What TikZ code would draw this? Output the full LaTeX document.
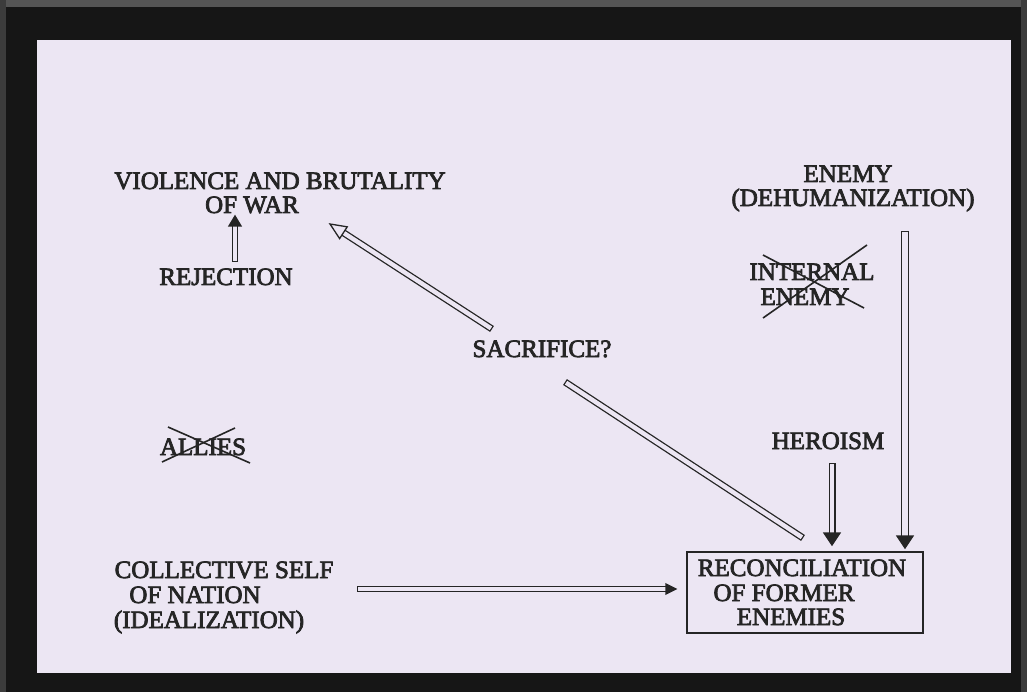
\documentclass[tikz,border=0pt]{standalone}
\usepackage{fontspec}
\setmainfont{Liberation Serif}[FakeBold=3]
\usetikzlibrary{calc}
\definecolor{ink}{HTML}{252525}
\definecolor{paper}{HTML}{ECE6F3}
\definecolor{frame}{HTML}{161616}
\definecolor{framegray}{HTML}{555555}
\newcommand\dblarrow[6]{%
  \coordinate (#2-hb) at ($(#2)!#4!(#1)$);
  \coordinate (#2-hl) at ($(#2-hb)!#5!90:(#2)$);
  \coordinate (#2-hr) at ($(#2-hb)!#5!-90:(#2)$);
  \draw[ink, line width=#3] (#1) -- (#2-hb);
  \draw[paper, line width=#3-2.6pt, shorten <=1.3pt] (#1) -- (#2-hb);
  \draw[ink, fill=#6, line width=1.3pt, line join=miter] (#2) -- (#2-hl) -- (#2-hr) -- cycle;}
\newcommand\dblbar[3]{%
  \draw[ink, line width=#3] (#1) -- (#2);
  \draw[paper, line width=#3-2.6pt, shorten <=1.3pt, shorten >=1.3pt] (#1) -- (#2);}
\tikzset{
  lbl/.style={text=ink, inner sep=0pt, text height=16pt, text depth=4pt,
    yshift=-2pt, font=\fontsize{25}{24}\selectfont},
  cross/.style={draw=ink, line width=1.6pt},
  recbox/.style={draw=ink, line width=2.8pt}
}
\begin{document}
\begin{tikzpicture}[x=1pt,y=-1pt]
\useasboundingbox (0,0) rectangle (1027,692);
% frame
\fill[frame] (0,0) rectangle (1027,692);
\fill[framegray] (0,0) rectangle (1027,7);
\fill[framegray!60!frame] (0,0) rectangle (6,692);
\fill[framegray!60!frame] (1021,0) rectangle (1027,692);
\fill[paper] (37,40) rectangle (1011,673);

% labels
\node[lbl] (v1) at (280,181) {VIOLENCE AND BRUTALITY};
\node[lbl] (v2) at (252,205) {OF WAR};
\node[lbl] (rej) at (226,277) {REJECTION};
\node[lbl] (sac) at (542,349) {SACRIFICE?};
\node[lbl] (en1) at (848,174) {ENEMY};
\node[lbl] (en2) at (853,198) {(DEHUMANIZATION)};
\node[lbl] (in1) at (812,272) {INTERNAL};
\node[lbl] (in2) at (805,297) {ENEMY};
\node[lbl] (all) at (203,447) {ALLIES};
\node[lbl] (her) at (828,441) {HEROISM};
\node[lbl] (cs1) at (224,570) {COLLECTIVE SELF};
\node[lbl] (cs2) at (195,595) {OF NATION};
\node[lbl] (cs3) at (209,620) {(IDEALIZATION)};
\node[recbox, minimum width=236pt, minimum height=81pt, inner sep=0pt] (rec) at (805,592.5) {};
\node[lbl] (rc1) at (802,568) {RECONCILIATION};
\node[lbl] (rc2) at (784,593) {OF FORMER};
\node[lbl] (rc3) at (791,617) {ENEMIES};

% crosses
\coordinate (ia) at (763,255); \coordinate (ib) at (864,308);
\coordinate (ic) at (867,245); \coordinate (id) at (763,318);
\draw[cross] (ia) -- (ib); \draw[cross] (ic) -- (id);
\coordinate (aa) at (168,427); \coordinate (ab) at (250,463);
\coordinate (ac) at (235,428); \coordinate (ad) at (162,462);
\draw[cross] (aa) -- (ab); \draw[cross] (ac) -- (ad);

% arrow end points
\coordinate (rejT) at (235,262); \coordinate (rejH) at (235,216);
\coordinate (sacT) at (492,329); \coordinate (sacH) at (330,224);
\coordinate (barA) at (565,382); \coordinate (barB) at (803,538);
\coordinate (herT) at (832,463); \coordinate (herH) at (832,545);
\coordinate (enT) at (905,231); \coordinate (enH) at (905,548);
\coordinate (csT) at (357,589); \coordinate (csH) at (676,589);

\dblarrow{rejT}{rejH}{6pt}{10pt}{6pt}{ink}
\dblarrow{sacT}{sacH}{7pt}{16pt}{7pt}{paper}
\dblbar{barA}{barB}{7pt}
\dblarrow{herT}{herH}{7pt}{12pt}{8pt}{ink}
\dblarrow{enT}{enH}{8pt}{12pt}{8pt}{ink}
\dblarrow{csT}{csH}{6pt}{10pt}{5pt}{ink}
\end{tikzpicture}
\end{document}
